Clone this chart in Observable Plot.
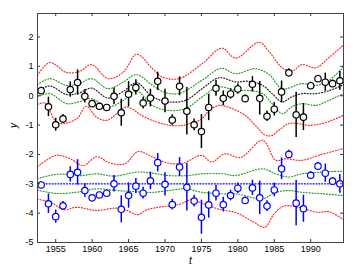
<!DOCTYPE html>
<html><head><meta charset="utf-8">
<script src="https://cdn.jsdelivr.net/npm/d3@7"></script>
<script src="https://cdn.jsdelivr.net/npm/@observablehq/plot@0.6"></script>
<style>body{margin:0;background:#fff}</style>
</head><body><div id="chart"></div>
<script>
// observations
const years = d3.range(1953, 1995);
const obsTop = [0.17,-0.38,-0.99,-0.79,0.21,0.45,-0.02,-0.27,-0.36,-0.40,-0.02,-0.58,0.05,0.28,-0.25,-0.08,0.49,-0.18,-0.83,0.32,-0.53,-0.99,-1.22,-0.40,0.25,-0.09,0.06,0.23,-0.10,0.39,-0.09,-0.70,-0.46,0.13,0.78,-0.65,-0.73,0.34,0.58,0.46,0.41,0.51];
const obsBottom = [-3.04,-3.68,-4.12,-3.75,-2.68,-2.61,-3.23,-3.48,-3.38,-3.32,-3.00,-3.87,-3.40,-3.08,-3.32,-2.90,-2.28,-3.02,-3.71,-2.43,-3.12,-3.59,-4.14,-3.72,-3.32,-3.71,-3.40,-3.15,-3.57,-3.14,-3.48,-3.76,-3.21,-2.49,-2.00,-3.66,-3.85,-2.71,-2.40,-2.64,-2.91,-3.00];
const err = [0.12,0.33,0.22,0.15,0.26,0.43,0.23,0.1,0.1,0.1,0.28,0.46,0.43,0.26,0.2,0.3,0.31,0.4,0.18,0.32,0.81,0.2,0.58,0.45,0.27,0.25,0.18,0.18,0.12,0.26,0.57,0.18,0.23,0.37,0.14,0.77,0.46,0.12,0.12,0.31,0.12,0.32];

// upper band curves
const meanT = [1952.5,1954.2,1956.5,1958.3,1959.9,1962.2,1964.3,1966.1,1968.3,1970.5,1972.8,1975.1,1977.4,1979.7,1981.5,1983.4,1984.7,1986.1,1987.4,1988.8,1990.7,1992.5,1994.5];
const meanV = [0.17,0.33,0.04,0.10,0.26,-0.08,0.15,0.44,-0.04,-0.21,-0.16,0.24,0.61,0.47,0.49,0.35,0.07,-0.21,-0.04,0.07,0.07,0.17,0.37];
const greenUpT = [1952.5,1954.2,1956.5,1958.3,1959.9,1962.2,1964.3,1966.1,1968.3,1970,1972,1975.1,1977.7,1979.7,1982.4,1984.3,1986.1,1988.8,1990.7,1992.5,1994.5];
const greenUpV = [0.38,0.58,0.35,0.42,0.58,0.24,0.47,0.72,0.35,0.11,0.08,0.53,0.93,0.75,0.92,0.72,0.24,0.41,0.35,0.52,0.98];
const greenLoT = [1952.5,1954.2,1956.5,1958.3,1959.9,1962.2,1964.3,1966.1,1968.3,1970.5,1972.8,1975.1,1977.4,1979.7,1981.5,1983.4,1984.7,1986.1,1987.4,1988.8,1990.7,1992.5,1994.5];
const greenLoV = [-0.04,0.07,-0.27,-0.2,-0.10,-0.38,-0.16,0.16,-0.34,-0.5,-0.44,-0.04,0.30,0.18,0.18,0.07,-0.27,-0.61,-0.38,-0.27,-0.33,-0.16,0.07];
const redUpT = [1952.5,1954.2,1956.5,1958.3,1959.9,1962.2,1964.3,1966.1,1968.3,1969.6,1971.9,1975.1,1977.8,1979.7,1982.9,1984.3,1986.1,1987.5,1988.8,1990.7,1992.5,1994.5];
const redUpV = [0.70,1.13,0.79,0.83,1.06,0.58,0.81,1.41,0.92,0.64,0.58,1.09,1.62,1.28,1.82,1.50,0.95,0.85,1.06,0.95,1.3,1.72];
const redLoT = [1952.5,1953.5,1955.1,1956.1,1957.9,1959.2,1960.6,1962.0,1963.4,1964.7,1967.0,1968.9,1970.7,1972.5,1973.6,1975.0,1976.3,1977.6,1979.2,1981.0,1982.4,1983.8,1984.7,1985.6,1987.0,1988.3,1989.7,1991.5,1992.9,1994.5];
const redLoV = [-0.30,-0.25,-0.90,-0.95,-0.78,-0.36,-0.73,-0.84,-0.61,-0.38,-0.70,-0.90,-1.01,-1.01,-0.93,-0.8,-0.45,-0.33,-0.44,-0.67,-1.01,-1.35,-1.35,-1.18,-0.95,-0.95,-1.01,-0.95,-0.84,-0.67];

// lower band curves
const blueMeanT = [1952.5,1994.5];
const blueMeanV = [-3.0,-3.0];
const green2UpT = [1952.5,1955.1,1957,1958.5,1960.6,1963,1966.2,1968.3,1970.5,1973.1,1975.1,1977.9,1979.7,1983.4,1985.2,1987,1988.8,1991.6,1994.5];
const green2UpV = [-2.82,-2.68,-2.68,-2.72,-2.66,-2.74,-2.6,-2.64,-2.72,-2.72,-2.66,-2.66,-2.72,-2.49,-2.66,-2.77,-2.66,-2.6,-2.57];
const green2LoT = [1952.5,1955.2,1958.4,1960.6,1963.4,1966.1,1968.3,1970.5,1972.8,1975.1,1977.9,1979.7,1983.4,1985.2,1987,1988.8,1991.6,1994.5];
const green2LoV = [-3.22,-3.33,-3.27,-3.17,-3.23,-3.27,-3.29,-3.23,-3.17,-3.29,-3.34,-3.34,-3.51,-3.29,-3.23,-3.29,-3.34,-3.40];
const red2UpT = [1952.5,1955.1,1957,1958.8,1960.6,1962.5,1964.5,1966.3,1968.3,1970.5,1972.5,1975.0,1976.4,1978.2,1980.4,1983.4,1985.2,1986.5,1988.8,1991.1,1994.5];
const red2UpV = [-2.42,-2.03,-2.15,-2.38,-2.08,-2.3,-2.32,-1.9,-2.09,-2.3,-2.3,-2.03,-2.26,-1.98,-2.1,-1.52,-2.2,-2.15,-2.2,-2.03,-1.8];
const red2LoT = [1952.5,1954.3,1956.1,1957.9,1960.6,1963.2,1964.7,1966.2,1967.6,1969.9,1972,1973.5,1975.3,1977.2,1979.9,1982.2,1983.7,1984.9,1986.3,1988.3,1990.9,1992.5,1994.5];
const red2LoV = [-3.53,-3.63,-3.88,-3.8,-3.91,-3.83,-3.9,-4.05,-3.88,-3.77,-3.7,-3.55,-3.68,-3.85,-4.0,-4.31,-4.48,-4.05,-3.76,-3.8,-3.97,-3.95,-4.22];

const xTicks = [1955,1960,1965,1970,1975,1980,1985,1990];
const yTicks = [-5,-4,-3,-2,-1,0,1,2];

const zip = (T, V) => T.map((t, i) => ({t, v: V[i]}));
const topRows = years.map((t, i) => ({t, y: obsTop[i], e: err[i]}));
const botRows = years.map((t, i) => ({t, y: obsBottom[i], e: err[i]}));

const W = 361, H = 271, mL = 37, mR = 18, mT = 13, mB = 29;
const fw = W - mL - mR, fh = H - mT - mB, tl = 3;

const dotted = {strokeDasharray: "1,1.9", strokeWidth: 1.2, curve: "catmull-rom"};
const RED = "#ff2a2a", GREEN = "#2a9e2a";
const line = (T, V, stroke) => Plot.line(zip(T, V), {x: "t", y: "v", stroke, ...dotted});

const chart = Plot.plot({
  width: W, height: H, marginLeft: mL, marginRight: mR, marginTop: mT, marginBottom: mB,
  style: {fontFamily: "'Liberation Sans', Arial, sans-serif", fontSize: "9px", background: "white", color: "black"},
  x: {domain: [1952.5, 1994.5]},
  y: {domain: [-5, 2.8]},
  marks: [
    line(redUpT, redUpV, RED),
    line(redLoT, redLoV, RED),
    line(greenUpT, greenUpV, GREEN),
    line(greenLoT, greenLoV, GREEN),
    line(meanT, meanV, "#222"),
    line(red2UpT, red2UpV, RED),
    line(red2LoT, red2LoV, RED),
    line(green2UpT, green2UpV, GREEN),
    line(green2LoT, green2LoV, GREEN),
    line(blueMeanT, blueMeanV, "#0000ff"),
    Plot.ruleX(topRows, {x: "t", y1: d => d.y - d.e, y2: d => d.y + d.e, stroke: "black", strokeWidth: 1.5}),
    Plot.dot(topRows, {x: "t", y: "y", r: 3.2, fill: "white", stroke: "black", strokeWidth: 1.2}),
    Plot.ruleX(botRows, {x: "t", y1: d => d.y - d.e, y2: d => d.y + d.e, stroke: "#0000ff", strokeWidth: 1.5}),
    Plot.dot(botRows, {x: "t", y: "y", r: 3.2, fill: "white", stroke: "#0000ff", strokeWidth: 1.2}),
    Plot.tickX(xTicks, {x: d => d, insetTop: fh - tl, stroke: "#333"}),
    Plot.tickX(xTicks, {x: d => d, insetBottom: fh - tl, stroke: "#333"}),
    Plot.tickY(yTicks, {y: d => d, insetRight: fw - tl, stroke: "#333"}),
    Plot.tickY(yTicks, {y: d => d, insetLeft: fw - tl, stroke: "#333"}),
    Plot.axisX({ticks: xTicks, tickSize: 0, tickPadding: 3, label: null, tickFormat: d => String(d)}),
    Plot.axisY({ticks: yTicks, tickSize: 0, tickPadding: 4, label: null, tickFormat: d => String(d)}),
    Plot.frame({stroke: "#444"}),
    Plot.text(["t"], {frameAnchor: "bottom", dy: 21, text: d => d, fontStyle: "italic", fontSize: 10}),
    Plot.text(["y"], {frameAnchor: "left", dx: -24, rotate: -90, text: d => d, fontStyle: "italic", fontSize: 10})
  ]
});
document.getElementById("chart").append(chart);
</script>
</body></html>
